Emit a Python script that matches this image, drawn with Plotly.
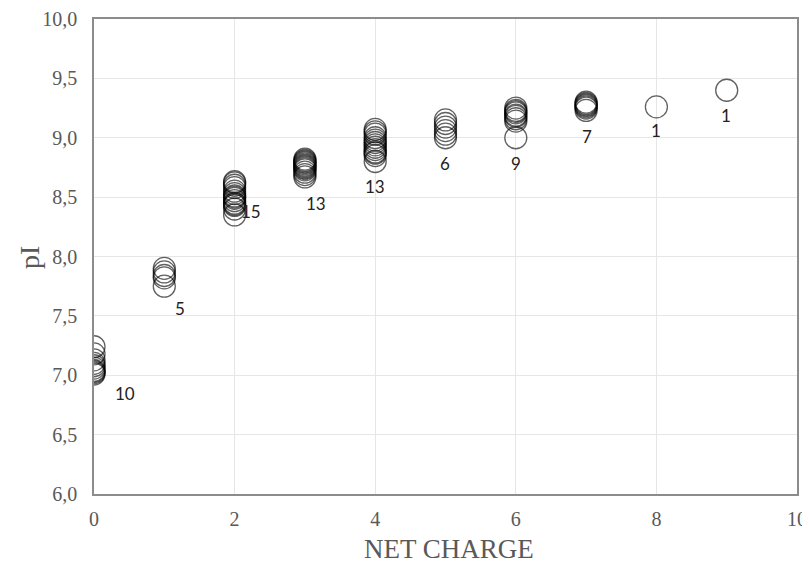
import plotly.graph_objects as go

# Net charge groups and pI values
charge_0 = [7.24, 7.18, 7.13, 7.10, 7.08, 7.06, 7.04, 7.03, 7.02, 7.01]
charge_1 = [7.90, 7.87, 7.84, 7.82, 7.75]
charge_2 = [8.63, 8.62, 8.60, 8.58, 8.55, 8.53, 8.51, 8.50, 8.49, 8.47, 8.45, 8.44, 8.43, 8.40, 8.35]
charge_3 = [8.82, 8.81, 8.80, 8.79, 8.78, 8.77, 8.76, 8.75, 8.74, 8.73, 8.71, 8.69, 8.67]
charge_4 = [9.07, 9.05, 9.03, 9.00, 8.98, 8.96, 8.94, 8.92, 8.90, 8.88, 8.87, 8.85, 8.80]
charge_5 = [9.15, 9.12, 9.09, 9.06, 9.03, 9.00]
charge_6 = [9.25, 9.23, 9.22, 9.21, 9.19, 9.18, 9.16, 9.14, 9.00]
charge_7 = [9.30, 9.29, 9.28, 9.27, 9.26, 9.25, 9.23]
charge_8 = [9.26]
charge_9 = [9.40]

groups = [charge_0, charge_1, charge_2, charge_3, charge_4,
          charge_5, charge_6, charge_7, charge_8, charge_9]

# Count labels and their positions (data coordinates)
label_text = ["10", "5", "15", "13", "13", "6", "9", "7", "1", "1"]
label_x = [0.44, 1.22, 2.23, 3.16, 4.0, 4.99, 6.0, 7.01, 7.99, 8.99]
label_y = [6.85, 7.56, 8.38, 8.45, 8.59, 8.78, 8.78, 9.01, 9.06, 9.19]

x_ticks = [0, 2, 4, 6, 8, 10]
y_ticks = [6.0, 6.5, 7.0, 7.5, 8.0, 8.5, 9.0, 9.5, 10.0]
y_tick_text = [f"{v:.1f}".replace(".", ",") for v in y_ticks]

x_title = "NET CHARGE"
y_title = "pI"

xs, ys = [], []
for charge, vals in enumerate(groups):
    xs += [charge] * len(vals)
    ys += vals

fig = go.Figure()
fig.add_trace(go.Scatter(
    x=xs, y=ys, mode="markers",
    marker=dict(symbol="circle-open", size=22,
                color="rgba(0,0,0,0.62)", line=dict(width=1.3)),
    showlegend=False, hoverinfo="skip",
))

for t, lx, ly in zip(label_text, label_x, label_y):
    fig.add_annotation(x=lx, y=ly, text=t, showarrow=False,
                       font=dict(family="Lato, Noto Sans, sans-serif", size=17, color="#222222"))

serif = "Liberation Serif, Times New Roman, serif"
axis_font = dict(family=serif, size=20, color="#595959")

fig.add_annotation(xref="paper", yref="paper", x=0.505, y=0, yshift=-55,
                   xanchor="center", yanchor="middle", showarrow=False,
                   text=x_title, font=dict(family=serif, size=27, color="#595959"))
fig.add_annotation(xref="paper", yref="paper", x=0, y=0.497, xshift=-64,
                   xanchor="center", yanchor="middle", showarrow=False, textangle=-90,
                   text=y_title, font=dict(family=serif, size=28, color="#595959"))

# page body has an 8px margin, so the figure is sized 8px smaller
fig.update_layout(
    width=802, height=555,
    margin=dict(l=86, r=13, t=11, b=69),
    paper_bgcolor="white", plot_bgcolor="white",
    xaxis=dict(range=[0, 10], tickvals=x_ticks, tickfont=axis_font, automargin=False,
               showgrid=True, gridcolor="#e6e6e6", gridwidth=1,
               showline=True, linecolor="#8c8c8c", linewidth=1.5, mirror=True,
               zeroline=False, ticks="", ticklabelstandoff=6),
    yaxis=dict(range=[6, 10], tickvals=y_ticks, ticktext=y_tick_text, tickfont=axis_font,
               automargin=False,
               showgrid=True, gridcolor="#e6e6e6", gridwidth=1,
               showline=True, linecolor="#8c8c8c", linewidth=1.5, mirror=True,
               zeroline=False, ticks="", ticklabelstandoff=11),
)

fig.write_html("out.html")
